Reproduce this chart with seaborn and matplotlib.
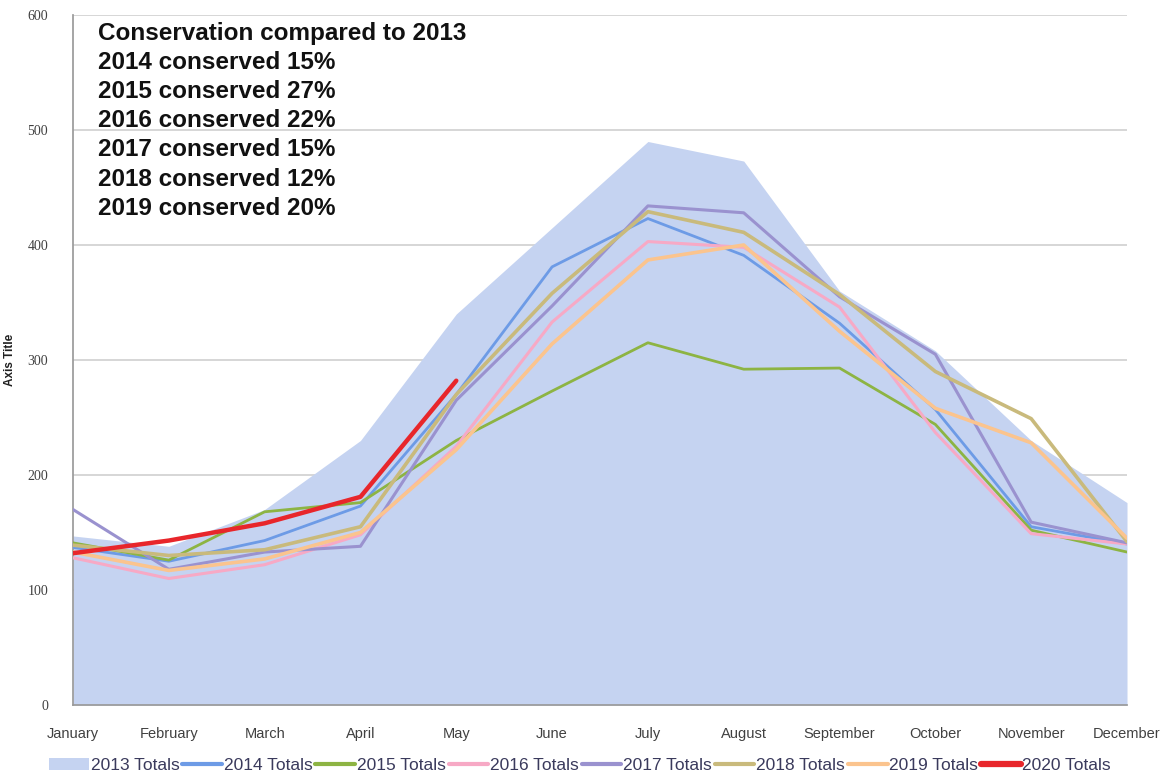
import matplotlib
matplotlib.use("Agg")
import matplotlib.pyplot as plt
import seaborn as sns
import pandas as pd
import numpy as np
from matplotlib.patches import Patch
from matplotlib.lines import Line2D

months = ["January", "February", "March", "April", "May", "June", "July",
          "August", "September", "October", "November", "December"]

totals_2013 = [147, 138, 170, 230, 340, 415, 490, 473, 360, 308, 230, 176]
totals_2014 = [137, 125, 143, 173, 270, 381, 423, 391, 332, 257, 155, 140]
totals_2015 = [141, 126, 168, 176, 230, 273, 315, 292, 293, 244, 152, 133]
totals_2016 = [128, 110, 122, 148, 225, 333, 403, 398, 346, 237, 149, 140]
totals_2017 = [170, 118, 133, 138, 265, 347, 434, 428, 355, 305, 159, 141]
totals_2018 = [139, 130, 135, 155, 270, 358, 429, 411, 357, 290, 249, 142]
totals_2019 = [133, 117, 127, 150, 222, 314, 387, 400, 325, 258, 228, 145]
totals_2020 = [132, 143, 158, 181, 282]

yticks = [0, 100, 200, 300, 400, 500, 600]
notes = ["Conservation compared to 2013",
         "2014 conserved 15%",
         "2015 conserved 27%",
         "2016 conserved 22%",
         "2017 conserved 15%",
         "2018 conserved 12%",
         "2019 conserved 20%"]

series = {
    "2014 Totals": (totals_2014, "#6d9be6", 2.0),
    "2015 Totals": (totals_2015, "#8db443", 2.0),
    "2016 Totals": (totals_2016, "#f7a9c5", 2.2),
    "2017 Totals": (totals_2017, "#9a92cf", 2.2),
    "2018 Totals": (totals_2018, "#c9ba7c", 2.6),
    "2019 Totals": (totals_2019, "#fbc48e", 2.6),
    "2020 Totals": (totals_2020, "#e8262b", 3.2),
}
area_color = "#c5d3f1"

sns.set_theme(style="white")
plt.rcParams["font.family"] = ["Liberation Sans", "DejaVu Sans"]

fig = plt.figure(figsize=(11.65, 7.76), dpi=100)
ax = fig.add_axes([73/1165, 71/776, 1054/1165, 690/776])

x = np.arange(len(months))
ax.fill_between(x, 0, totals_2013, color=area_color, lw=0, zorder=1)

for name, (vals, col, lw) in series.items():
    df = pd.DataFrame({"x": x[:len(vals)], "y": vals})
    sns.lineplot(data=df, x="x", y="y", ax=ax, color=col, lw=lw, zorder=3)

ax.set_xlim(0, 11)
ax.set_ylim(0, 600)
ax.set_yticks(yticks)
ax.set_yticklabels([str(v) for v in yticks], fontsize=10, color="#404040",
                   family="Liberation Serif")
ax.set_xticks(x)
ax.set_xticklabels(months, fontsize=10.5, color="#404040")
ax.tick_params(axis="y", length=0, pad=18)
ax.tick_params(axis="x", length=0, pad=16)
ax.yaxis.grid(True, color="#cfcfcf", lw=1.2, zorder=0)
ax.set_axisbelow(True)
for s in ["top", "right"]:
    ax.spines[s].set_visible(False)
ax.spines["left"].set_color("#9a9a9a")
ax.spines["bottom"].set_color("#9a9a9a")
ax.set_xlabel("")
ax.set_ylabel("Axis Title", fontsize=8.5, fontweight="bold", color="#202020", labelpad=8)

fig.text(98/1165, 1 - 22/776, "\n".join(notes), fontsize=17.5, fontweight="bold",
         va="top", ha="left", linespacing=1.34, color="#111111")

handles = [Patch(facecolor=area_color, edgecolor="none", label="2013 Totals")]
for name, (vals, col, lw) in series.items():
    handles.append(Line2D([0], [0], color=col, lw=3 if name != "2020 Totals" else 4.5, label=name))
fig.legend(handles=handles, loc="lower center", bbox_to_anchor=(0.498, -0.016),
           ncol=8, frameon=False, fontsize=12.5, handlelength=2.3, handletextpad=0.1,
           columnspacing=0.15, labelcolor="#3a3a5c")

fig.savefig("out.png", dpi=100)
